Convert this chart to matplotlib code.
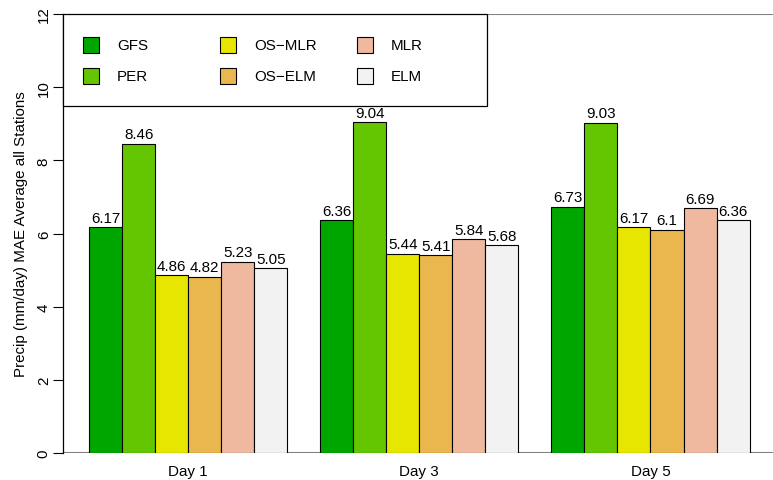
import matplotlib
matplotlib.use("Agg")
import matplotlib.pyplot as plt
from matplotlib.patches import Rectangle

plt.rcParams['font.family'] = ['Liberation Sans', 'DejaVu Sans']

days = ["Day 1", "Day 3", "Day 5"]
models = ["GFS", "PER", "OS\u2212MLR", "OS\u2212ELM", "MLR", "ELM"]
colors = ["#00A600", "#63C600", "#E6E600", "#EAB64E", "#EEB99F", "#F2F2F2"]

gfs = [6.17, 6.36, 6.73]
per = [8.46, 9.04, 9.03]
os_mlr = [4.86, 5.44, 6.17]
os_elm = [4.82, 5.41, 6.1]
mlr = [5.23, 5.84, 6.69]
elm = [5.05, 5.68, 6.36]
series = [gfs, per, os_mlr, os_elm, mlr, elm]

W, H = 773, 481
fig = plt.figure(figsize=(W / 100, H / 100), dpi=100)
# R barplot region: xlim 0.2..21.8 runs a bit past the right edge
left, right, top, bottom = 62.6, 776.0, 15.0, 454.0
ax = fig.add_axes([left / W, 1 - bottom / H, (right - left) / W, (bottom - top) / H])

fs = 10.9
for g in range(len(days)):
    for i, vals in enumerate(series):
        x = 1 + 7 * g + i + 0.5
        v = vals[g]
        ax.bar(x, v, width=1.0, color=colors[i], edgecolor="black", linewidth=0.8)
        ax.annotate(f"{v:g}", (x, v), xytext=(0, 4), textcoords="offset points",
                    ha="center", va="baseline", fontsize=fs)

ax.axhline(0, color="#808080", lw=1.5, zorder=0)
ax.axhline(12, color="#808080", lw=1.5, zorder=0)

ax.set_xlim(0.2, 21.8)
ax.set_ylim(0, 12)
ax.set_xticks([1 + 7 * g + 3 for g in range(len(days))])
ax.set_xticklabels(days, fontsize=fs)
ax.tick_params(axis="x", length=0, pad=8)
ax.set_yticks(range(0, 13, 2))
ax.set_yticklabels([str(t) for t in range(0, 13, 2)], fontsize=fs, rotation=90, va="center")
ax.tick_params(axis="y", length=7, width=0.8, pad=1.5)
ax.set_ylabel("Precip (mm/day) MAE Average all Stations", fontsize=fs, labelpad=6)
for s in ["top", "right", "bottom"]:
    ax.spines[s].set_visible(False)
ax.spines["left"].set_linewidth(0.9)

# legend, R style with equal column widths
def fx(px):
    return px / W

def fy(py):
    return 1 - py / H

fig.add_artist(Rectangle((fx(63), fy(107)), fx(487) - fx(63), fy(15) - fy(107),
                         transform=fig.transFigure, facecolor="white",
                         edgecolor="black", lw=0.9, zorder=5))
col_x = [83, 220, 357]
row_y = [46, 77]
for k, name in enumerate(models):
    c, r = k // 2, k % 2
    bx, by = col_x[c], row_y[r]
    fig.add_artist(Rectangle((fx(bx), fy(by + 8)), fx(16), 16 / H,
                             transform=fig.transFigure, facecolor=colors[k],
                             edgecolor="black", lw=0.8, zorder=6))
    fig.text(fx(bx + 34), fy(by), name, fontsize=fs, va="center", ha="left", zorder=7)

fig.savefig("out.png", dpi=100)
